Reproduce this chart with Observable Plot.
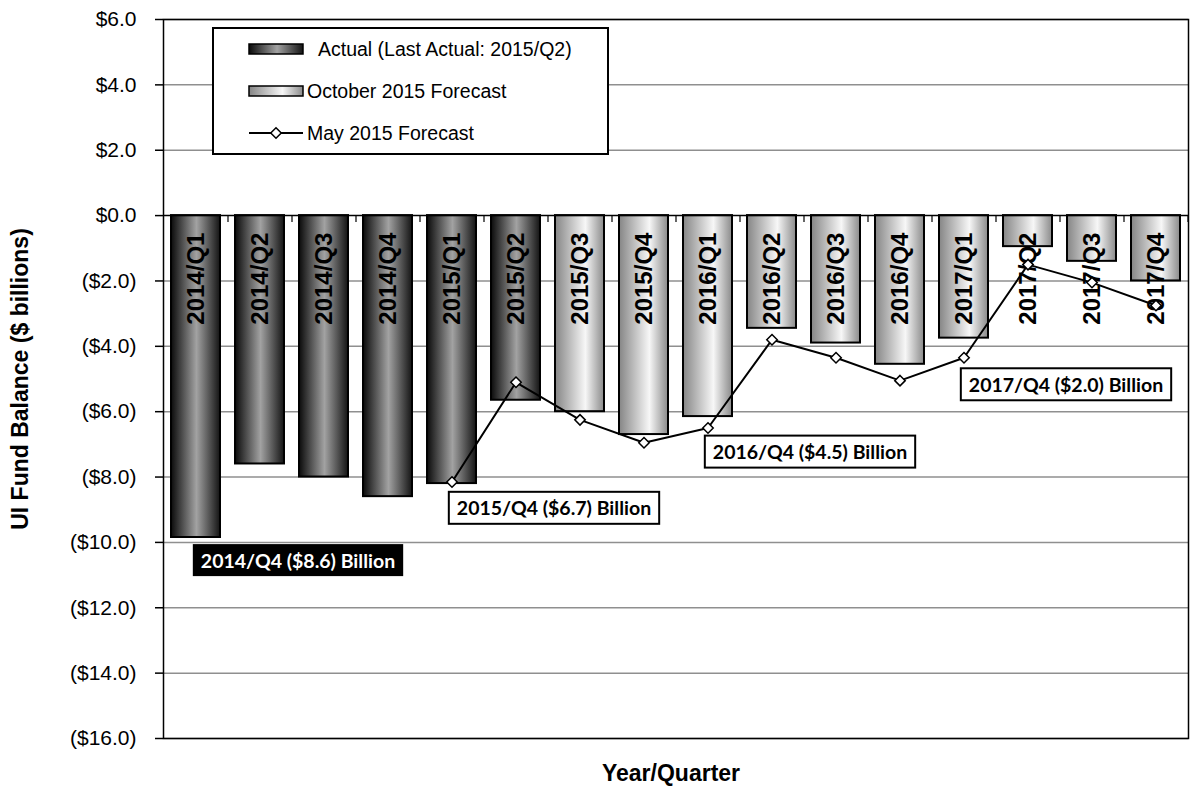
<!DOCTYPE html>
<html>
<head>
<meta charset="utf-8">
<script src="https://cdn.jsdelivr.net/npm/d3@7"></script>
<script src="https://cdn.jsdelivr.net/npm/@observablehq/plot@0.6"></script>
<style>
  body { margin: 0; background: #fff; }
  #chart { width: 1194px; height: 789px; position: relative; }
</style>
</head>
<body>
<svg width="0" height="0" style="position:absolute">
  <defs>
    <linearGradient id="gActual" x1="0" y1="0" x2="1" y2="0">
      <stop offset="0" stop-color="#0a0a0a"/>
      <stop offset="0.52" stop-color="#a2a2a2"/>
      <stop offset="1" stop-color="#141414"/>
    </linearGradient>
    <linearGradient id="gForecast" x1="0" y1="0" x2="1" y2="0">
      <stop offset="0" stop-color="#858585"/>
      <stop offset="0.62" stop-color="#f7f7f7"/>
      <stop offset="1" stop-color="#8a8a8a"/>
    </linearGradient>
  </defs>
</svg>
<div id="chart"></div>
<script>
// ---- data ----
const quarters = ["2014/Q1","2014/Q2","2014/Q3","2014/Q4","2015/Q1","2015/Q2","2015/Q3","2015/Q4",
                  "2016/Q1","2016/Q2","2016/Q3","2016/Q4","2017/Q1","2017/Q2","2017/Q3","2017/Q4"];
const actualQuarters = quarters.slice(0, 6);
const actualValues = [-9.85, -7.6, -8.0, -8.6, -8.2, -5.65];
const octForecastQuarters = quarters.slice(6);
const octForecastValues = [-6.0, -6.7, -6.15, -3.45, -3.9, -4.55, -3.75, -0.95, -1.4, -2.0];
const mayForecastQuarters = quarters.slice(4);
const mayForecastValues = [-8.15, -5.1, -6.25, -6.95, -6.5, -3.8, -4.35, -5.05, -4.35, -1.5, -2.05, -2.75];
const seriesNames = ["Actual (Last Actual: 2015/Q2)", "October 2015 Forecast", "May 2015 Forecast"];
const annotationLabels = ["2014/Q4 ($8.6) Billion", "2015/Q4 ($6.7) Billion", "2016/Q4 ($4.5) Billion", "2017/Q4 ($2.0) Billion"];
const annotationQuarters = ["2014/Q3", "2015/Q3", "2016/Q3", "2017/Q3"];
const annotationValues = [-10.58, -8.98, -7.26, -5.2];
const yTicks = [6, 4, 2, 0, -2, -4, -6, -8, -10, -12, -14, -16];
const yTitle = "UI Fund Balance ($ billions)";
const xTitle = "Year/Quarter";

// ---- tables ----
const actual = actualQuarters.map((q, i) => ({quarter: q, value: actualValues[i]}));
const forecast = octForecastQuarters.map((q, i) => ({quarter: q, value: octForecastValues[i]}));
const bars = actual.concat(forecast);
const may = mayForecastQuarters.map((q, i) => ({quarter: q, value: mayForecastValues[i]}));
const notes = annotationLabels.map((t, i) => ({label: t, quarter: annotationQuarters[i], value: annotationValues[i], dark: i === 0}));

const fmt = d => d < 0 ? `($${(-d).toFixed(1)})` : `$${d.toFixed(1)}`;

const chart = Plot.plot({
  width: 1194,
  height: 789,
  marginLeft: 163,
  marginRight: 6,
  marginTop: 19,
  marginBottom: 51,
  style: {fontFamily: "'Liberation Sans', Arial, sans-serif", fontSize: "20px", color: "#000", background: "#fff"},
  x: {domain: quarters, paddingInner: 0.23, paddingOuter: 0.115, axis: null},
  y: {domain: [-16, 6], axis: null},
  marks: [
    Plot.ruleY(yTicks.filter(d => d !== 0), {stroke: "#8f8f8f", strokeWidth: 1.5}),
    Plot.barY(actual, {x: "quarter", y: "value", fill: "url(#gActual)", stroke: "#000", strokeWidth: 2}),
    Plot.barY(forecast, {x: "quarter", y: "value", fill: "url(#gForecast)", stroke: "#000", strokeWidth: 2}),
    Plot.ruleY([0], {stroke: "#000", strokeWidth: 1.5}),
    Plot.ruleX(quarters, {x: d => d, y1: 0, y2: -0.21, dx: 32, stroke: "#000", strokeWidth: 1.2}),
    Plot.text(bars, {x: "quarter", y: 0, text: "quarter", rotate: -90, textAnchor: "end", dy: 17,
                     fontSize: 24, fontWeight: "bold", fill: "#000"}),
    Plot.line(may, {x: "quarter", y: "value", stroke: "#000", strokeWidth: 2}),
    Plot.dot(may, {x: "quarter", y: "value", symbol: "diamond2", r: 4.7, fill: "#fff", stroke: "#000", strokeWidth: 1.5}),
    Plot.text(notes.filter(d => d.dark), {x: "quarter", y: "value", text: "label", dx: -26,
              fontFamily: "Lato, 'Open Sans', sans-serif", fontWeight: "bold", fontSize: 19.5, fill: "#fff"}),
    Plot.text(notes.filter(d => !d.dark), {x: "quarter", y: "value", text: "label", dx: -26,
              fontFamily: "Lato, 'Open Sans', sans-serif", fontWeight: "bold", fontSize: 19.5, fill: "#000"}),
    Plot.frame({stroke: "#000", strokeWidth: 1.5}),
    Plot.axisY({ticks: yTicks, tickFormat: fmt, tickSize: 8, tickPadding: 19, fontSize: 21, label: null, strokeWidth: 1.5}),
    Plot.text([yTitle], {frameAnchor: "left", textAnchor: "middle", rotate: -90, dx: -143, fontWeight: "bold", fontSize: 23}),
    Plot.text([xTitle], {frameAnchor: "bottom", textAnchor: "middle", lineAnchor: "middle", dy: 35, dx: -5, fontWeight: "bold", fontSize: 23})
  ]
});
document.getElementById("chart").appendChild(chart);

// ---- annotation boxes ----
const svg = d3.select(chart);
svg.selectAll("text").filter(function() { return annotationLabels.includes(this.textContent); }).each(function() {
  const bb = this.getBBox();
  const i = annotationLabels.indexOf(this.textContent);
  const cy = bb.y + bb.height / 2;
  const r = document.createElementNS("http://www.w3.org/2000/svg", "rect");
  r.setAttribute("x", bb.x - 8);
  r.setAttribute("y", cy - 16);
  r.setAttribute("width", bb.width + 16);
  r.setAttribute("height", 32);
  if (this.getAttribute("transform")) r.setAttribute("transform", this.getAttribute("transform"));
  r.setAttribute("fill", i === 0 ? "#000" : "#fff");
  r.setAttribute("stroke", i === 0 ? "none" : "#000");
  r.setAttribute("stroke-width", 2);
  this.parentNode.insertBefore(r, this);
});

// ---- legend ----
const lg = svg.append("g").attr("font-family", "'Liberation Sans', Arial, sans-serif").attr("font-size", 19.5)
  .attr("text-anchor", "start");
lg.append("rect").attr("x", 213).attr("y", 28).attr("width", 395).attr("height", 126)
  .attr("fill", "#fff").attr("stroke", "#000").attr("stroke-width", 2);
const rowsY = [49, 91, 133];
lg.append("rect").attr("x", 249).attr("y", rowsY[0] - 5).attr("width", 54).attr("height", 10)
  .attr("fill", "url(#gActual)").attr("stroke", "#000").attr("stroke-width", 1.5);
lg.append("rect").attr("x", 249).attr("y", rowsY[1] - 5).attr("width", 54).attr("height", 10)
  .attr("fill", "url(#gForecast)").attr("stroke", "#000").attr("stroke-width", 1.5);
lg.append("line").attr("x1", 249).attr("x2", 303).attr("y1", rowsY[2]).attr("y2", rowsY[2])
  .attr("stroke", "#000").attr("stroke-width", 2);
lg.append("path").attr("d", d3.symbol(d3.symbolDiamond2, 70)()).attr("transform", `translate(276,${rowsY[2]})`)
  .attr("fill", "#fff").attr("stroke", "#000").attr("stroke-width", 1.5);
const textX = [318, 307, 307];
seriesNames.forEach((name, i) => {
  lg.append("text").attr("x", textX[i]).attr("y", rowsY[i]).attr("dy", "0.35em").attr("fill", "#000").text(name);
});
</script>
</body>
</html>
